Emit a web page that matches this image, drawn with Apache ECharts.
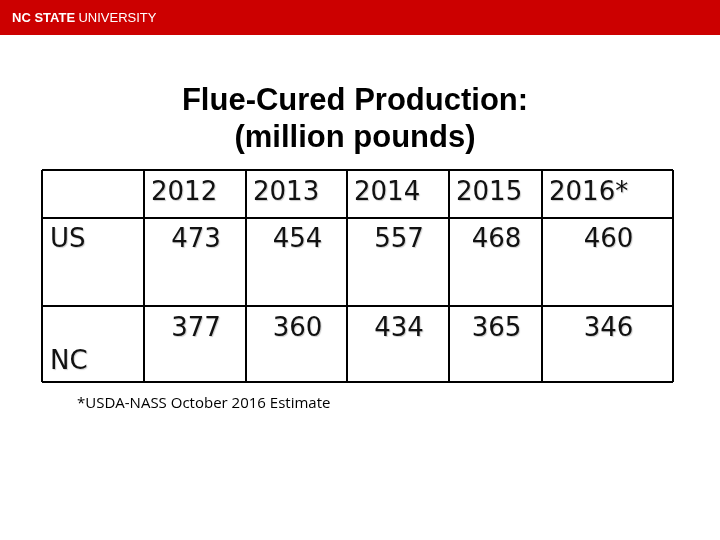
<!DOCTYPE html>
<html><head><meta charset="utf-8">
<script src="https://cdn.jsdelivr.net/npm/echarts@6/dist/echarts.min.js"></script>
<style>html,body{margin:0;padding:0;background:#fff}#c{width:720px;height:540px}</style>
</head><body><div id="c"></div>
<script>
const years = ['2012','2013','2014','2015','2016*'];
const rowLabels = ['US','NC'];
const usValues = [473,454,557,468,460];
const ncValues = [377,360,434,365,346];
const title1 = 'Flue-Cured Production:';
const title2 = '(million pounds)';
const footnote = '*USDA-NASS October 2016 Estimate';

const colX = [42,144,246,347,449,542,673];
const rowY = [170,218,306,382];
const g = [];
g.push({type:'rect',shape:{x:0,y:0,width:720,height:35},style:{fill:'#CC0000'}});
g.push({type:'text',x:12,y:18,style:{text:'{b|NC STATE} {n|UNIVERSITY}',fill:'#fff',verticalAlign:'middle',
  rich:{b:{fontFamily:'Liberation Sans',fontWeight:'bold',fontSize:13,fill:'#fff'},n:{fontFamily:'Liberation Sans',fontSize:13,fill:'#fff'}}}});
g.push({type:'text',x:355,y:101,style:{text:title1,fontFamily:'Liberation Sans',fontWeight:'bold',fontSize:31,fill:'#000',align:'center',verticalAlign:'middle'}});
g.push({type:'text',x:355,y:138,style:{text:title2,fontFamily:'Liberation Sans',fontWeight:'bold',fontSize:31,fill:'#000',align:'center',verticalAlign:'middle'}});
const line = (x1,y1,x2,y2)=>g.push({type:'line',shape:{x1,y1,x2,y2},style:{stroke:'#000',lineWidth:2}});
colX.forEach(x=>line(x,rowY[0],x,rowY[3]));
rowY.forEach(y=>line(colX[0],y,colX[6],y));
const txt = (s,x,y,align)=>g.push({type:'text',x,y,style:{text:s,fontFamily:'DejaVu Sans',fontSize:26,fill:'#111',align,verticalAlign:'middle',textShadowColor:'rgba(0,0,0,0.2)',textShadowOffsetX:1,textShadowOffsetY:1,textShadowBlur:1}});
years.forEach((y,i)=>txt(y,colX[i+1]+7,193,'left'));
txt(rowLabels[0],50,240,'left');
txt(rowLabels[1],50,362,'left');
usValues.forEach((v,i)=>txt(String(v),(colX[i+1]+colX[i+2])/2+1,240,'center'));
ncValues.forEach((v,i)=>txt(String(v),(colX[i+1]+colX[i+2])/2+1,329,'center'));
g.push({type:'text',x:77,y:404,style:{text:footnote,fontFamily:'Open Sans',fontSize:15,fill:'#000',verticalAlign:'middle'}});
const chart = echarts.init(document.getElementById('c'));
chart.setOption({animation:false,graphic:g});
</script></body></html>
